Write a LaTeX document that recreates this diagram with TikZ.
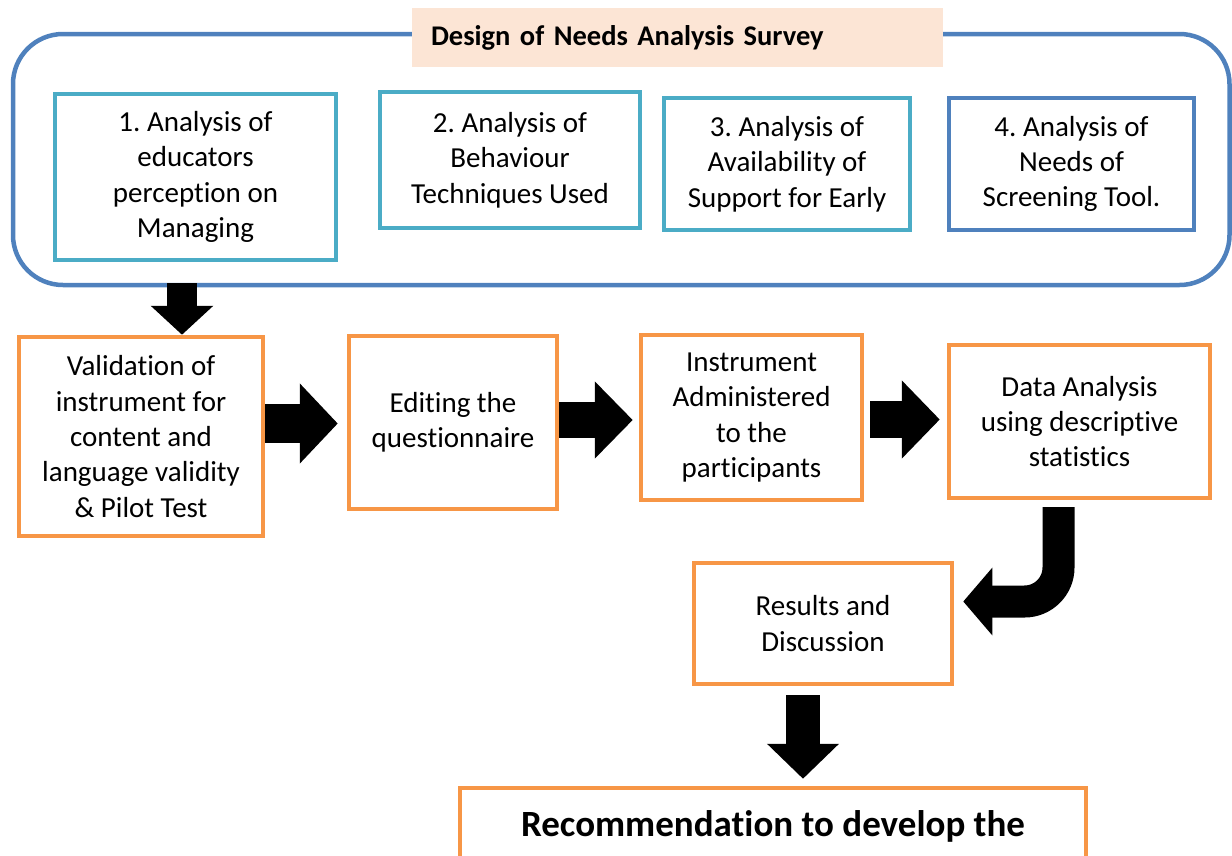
\documentclass[tikz,border=0pt]{standalone}
\usepackage{fontspec}
\setmainfont{Carlito}[Ligatures={NoCommon,NoRequired,NoContextual}]
\usetikzlibrary{arrows.meta,calc}
\definecolor{tealc}{RGB}{75,172,198}
\definecolor{bluec}{RGB}{79,129,189}
\definecolor{orangec}{RGB}{247,150,70}
\definecolor{peachc}{RGB}{252,229,213}
\frenchspacing
\tikzset{
  boxtxt/.style={font=\fontsize{29}{35.4}\selectfont, align=center, inner sep=0pt},
  tbox/.style={boxtxt, draw=tealc, line width=4.5pt},
  bbox/.style={boxtxt, draw=bluec, line width=4.5pt},
  obox/.style={boxtxt, draw=orangec, line width=4.5pt},
  blk/.style={draw=black, line width=#1pt},
}
\begin{document}
\begin{tikzpicture}[x=1pt,y=-1pt]
\useasboundingbox (0,0) rectangle (1232,855);
\clip (0,0) rectangle (1232,855);
% container
\draw[bluec, line width=4.5pt, rounded corners=50pt] (13,34) rectangle (1229.5,285);
\node[fill=peachc, text width=493pt, align=left, inner xsep=19pt, inner ysep=0pt, minimum height=59pt,
      font=\bfseries\fontsize{28.5}{35}\selectfont] (title) at (677.5,37.5) {Design of Needs Analysis Survey};
% top boxes
\node[tbox, minimum width=281pt, minimum height=166pt] (a1) at (195.5,177) {1. Analysis of\\educators\\perception on\\Managing};
\node[tbox, minimum width=260pt, minimum height=136pt] (a2) at (510,160) {2. Analysis of\\Behaviour\\Techniques Used};
\node[tbox, minimum width=246pt, minimum height=132pt] (a3) at (787,164) {3. Analysis of\\Availability of\\Support for Early};
\node[bbox, minimum width=245pt, minimum height=132pt] (a4) at (1071.5,164) {4. Analysis of\\Needs of\\Screening Tool.};
% orange boxes
\node[obox, minimum width=244pt, minimum height=199pt] (val) at (141,436.5) {Validation of\\instrument for\\content and\\language validity\\\& Pilot Test};
\node[obox, minimum width=208pt, minimum height=173pt] (ed) at (453,422.5) {Editing the\\questionnaire};
\node[obox, minimum width=221pt, minimum height=165pt] (ins) at (751.5,417.5) {Instrument\\Administered\\to the\\participants};
\node[obox, minimum width=261pt, minimum height=153pt] (da) at (1079.5,421.5) {Data Analysis\\using descriptive\\statistics};
\node[obox, minimum width=258pt, minimum height=121pt] (res) at (823,623.5) {Results and\\Discussion};
\node[obox, minimum width=626pt, minimum height=76pt, font=\bfseries\fontsize{37}{44}\selectfont] (rec) at (773,826) {Recommendation to develop the};
% arrows
\coordinate (d1s) at (182,283);
\draw[blk=30, -{Triangle[width=61pt,length=29pt]}] (d1s) -- (d1s |- val.north);
\coordinate (r1) at (0,423.5);
\draw[blk=39, -{Triangle[width=78pt,length=38pt]}] (val.east |- r1) -- ([xshift=-9pt]ed.west |- r1);
\coordinate (r2) at (0,420);
\draw[blk=36, -{Triangle[width=75pt,length=38pt]}] (ed.east |- r2) -- ([xshift=-6pt]ins.west |- r2);
\coordinate (r3) at (0,419.5);
\draw[blk=37, -{Triangle[width=76pt,length=38pt]}] ([xshift=6pt]ins.east |- r3) -- ([xshift=-7pt]da.west |- r3);
\coordinate (c1) at (1058.5,507);
\coordinate (c2) at (0,601.5);
\draw[blk=32, rounded corners=34pt, -{Triangle[width=66pt,length=29pt]}] (c1) -- (c1 |- c2) -- ([xshift=9pt]res.east |- c2);
\coordinate (d2s) at (803,695);
\draw[blk=34, shorten >=7pt, -{Triangle[width=70pt,length=35pt]}] (d2s) -- (d2s |- rec.north);
\end{tikzpicture}
\end{document}
